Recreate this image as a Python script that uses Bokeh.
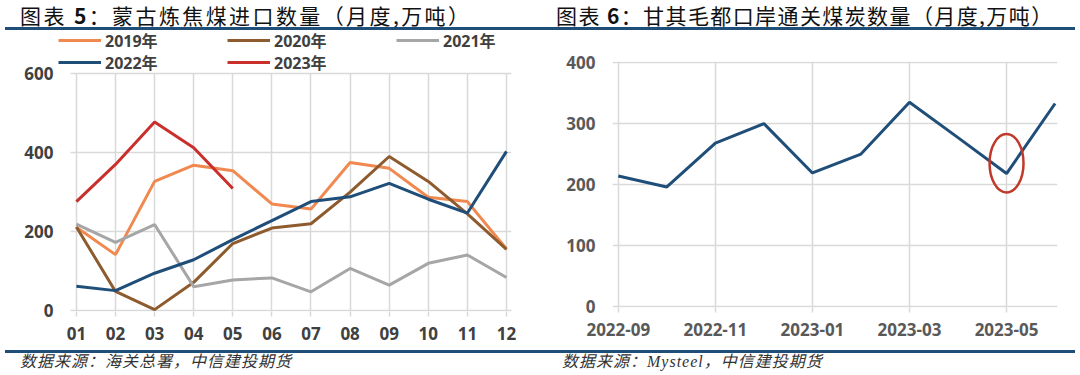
import re
from bokeh.plotting import figure
from bokeh.models import Range1d, FixedTicker, Legend, LegendItem, Div, Grid
from bokeh.layouts import row, column
from bokeh.embed import file_html
from bokeh.resources import INLINE

# ---------------- data ----------------
months = ["01", "02", "03", "04", "05", "06", "07", "08", "09", "10", "11", "12"]
imp_2019 = [211, 142, 327, 368, 354, 270, 257, 375, 360, 287, 276, 156]
imp_2020 = [212, 49, 3, 72, 170, 209, 220, 300, 390, 327, 245, 155]
imp_2021 = [219, 173, 218, 61, 78, 83, 48, 107, 65, 120, 141, 84]
imp_2022 = [62, 51, 95, 129, 180, 228, 276, 288, 322, 282, 247, 403]
imp_2023 = [276, 370, 477, 412, 309]
left_yticks = [0, 200, 400, 600]

port_months = ["2022-09", "2022-10", "2022-11", "2022-12", "2023-01",
               "2023-02", "2023-03", "2023-04", "2023-05", "2023-06"]
port_values = [214, 196, 268, 300, 219, 250, 335, 277, 218, 333]
port_tick_months = ["2022-09", "2022-11", "2023-01", "2023-03", "2023-05"]
right_yticks = [0, 100, 200, 300, 400]
highlight_month = "2023-05"

title_left = "图表 5：蒙古炼焦煤进口数量（月度,万吨）"
title_right = "图表 6：甘其毛都口岸通关煤炭数量（月度,万吨）"
source_left = "数据来源：海关总署，中信建投期货"
source_right = "数据来源：Mysteel，中信建投期货"

# ---------------- styles ----------------
COL_W = 540
TITLE_H = 30
FIG_H = 319
NUM_FONT = "'Open Sans', 'Noto Sans CJK SC'"
RULE = "#1F4E79"
GRID = "#D9D9D9"
C2019, C2020, C2021, C2022, C2023 = "#F0894F", "#8E5B2E", "#A6A6A6", "#1F4E79", "#C9302C"
HAS_CROSS = hasattr(Grid, "cross_bounds")


def title_div(text, left, ls, rule_left, rule_w):
    t = re.sub(r"(\d+)", r"<b style=\"font-family:'Liberation Serif';\">\1</b>", text)
    html = (f'<div style="position:relative;width:{COL_W}px;height:{TITLE_H}px;">'
            f'<div style="position:absolute;left:{left}px;top:3px;font-family:\'Noto Sans CJK SC\';'
            f'font-size:21px;line-height:24px;letter-spacing:{ls}px;color:#111111;white-space:nowrap;">{t}</div>'
            f'<div style="position:absolute;left:{rule_left}px;top:{TITLE_H - 3}px;width:{rule_w}px;height:3px;'
            f'background:{RULE};"></div></div>')
    return Div(text=html, width=COL_W, height=TITLE_H, margin=(0, 0, 0, 0))


def source_div(text, left, ls, rule_left, rule_w):
    html = (f'<div style="position:relative;width:{COL_W}px;height:26px;">'
            f'<div style="position:absolute;left:{rule_left}px;top:1px;width:{rule_w}px;height:3px;'
            f'background:{RULE};"></div>'
            f'<div style="position:absolute;left:{left}px;top:3px;font-family:\'Liberation Serif\',\'Noto Sans CJK SC\';'
            f'font-style:italic;font-size:16px;line-height:20px;letter-spacing:{ls}px;color:#333333;'
            f'white-space:nowrap;">{text}</div></div>')
    return Div(text=html, width=COL_W, height=26, margin=(0, 0, 0, 0))


def make_fig(ox, oy, fl, fr, ft, fb, xr, yr):
    p = figure(width=COL_W, height=FIG_H, x_range=xr, y_range=yr,
               output_backend="svg", toolbar_location=None,
               min_border_left=fl - ox, min_border_right=COL_W - (fr - ox),
               min_border_top=ft - oy, min_border_bottom=FIG_H - (fb - oy))
    try:
        p.frame_align = False
    except Exception:
        pass
    p.outline_line_color = None
    p.background_fill_color = "white"
    p.border_fill_color = "white"
    return p


def style_axes(p, color, xticks, yticks, fs, ystand):
    p.xaxis.ticker = FixedTicker(ticks=xticks)
    p.yaxis.ticker = FixedTicker(ticks=yticks)
    for ax in (p.xaxis, p.yaxis):
        ax.axis_line_color = None
        ax.minor_tick_line_color = None
        ax.major_label_text_font = NUM_FONT
        ax.major_label_text_font_style = "bold"
        ax.major_label_text_font_size = fs
        ax.major_label_text_color = color
    p.xaxis.major_tick_in = 0
    p.xaxis.major_tick_out = 5
    p.xaxis.major_tick_line_color = GRID
    p.xaxis.major_tick_line_width = 1.5
    p.xaxis.major_label_standoff = 10
    p.yaxis.major_tick_line_color = None
    p.yaxis.major_tick_in = 0
    p.yaxis.major_tick_out = 0
    p.yaxis.major_label_standoff = ystand
    p.xgrid.grid_line_color = GRID
    p.ygrid.grid_line_color = GRID
    p.xgrid.grid_line_width = 1.5
    p.ygrid.grid_line_width = 1.5


def legend_row(items, loc):
    return Legend(items=items, location=loc, orientation="horizontal",
                  glyph_width=43, glyph_height=20, label_height=20, label_width=122,
                  label_standoff=4, spacing=0, padding=0, margin=0,
                  border_line_color=None, background_fill_alpha=0,
                  label_text_font=NUM_FONT, label_text_font_style="bold",
                  label_text_font_size="16px", label_text_color="#404040")


# ---------------- left chart ----------------
xs = list(range(1, len(months) + 1))
p1 = make_fig(0, TITLE_H, 56, 511, TITLE_H, 311, Range1d(0.491, 12.128), Range1d(-1.77, 708.4))
style_axes(p1, "#404040", xs, left_yticks, "17px", 3)
p1.xaxis.major_label_overrides = {i: m for i, m in zip(xs, months)}
y_top = max(left_yticks)
if HAS_CROSS:
    p1.xgrid.cross_bounds = (0, y_top)
    p1.ygrid.cross_bounds = (0.85, 12.13)
else:
    p1.xgrid.grid_line_color = None
    p1.segment(x0=xs, y0=[0] * len(xs), x1=xs, y1=[y_top] * len(xs),
               line_color=GRID, line_width=1.5)

series = [("2019年", imp_2019, C2019), ("2020年", imp_2020, C2020), ("2021年", imp_2021, C2021),
          ("2022年", imp_2022, C2022), ("2023年", imp_2023, C2023)]
renderers = {}
for name, vals, col in series:
    renderers[name] = p1.line(xs[:len(vals)], vals, line_color=col, line_width=3)

items = [LegendItem(label=name, renderers=[renderers[name]]) for name, _, _ in series]
p1.add_layout(legend_row(items[:3], (2, 259)))
p1.add_layout(legend_row(items[3:], (2, 237)))

# ---------------- right chart ----------------
px = list(range(len(port_months)))
p2 = make_fig(540, TITLE_H, 612, 1057, 61, 307, Range1d(-0.12, 9.05), Range1d(-2, 402))
tick_idx = [port_months.index(m) for m in port_tick_months]
style_axes(p2, "#595959", tick_idx, right_yticks, "17px", 17)
p2.xaxis.major_label_overrides = {i: port_months[i] for i in tick_idx}
p2.line(px, port_values, line_color="#1F4E79", line_width=3)

hi = port_months.index(highlight_month)
p2.ellipse(x=[hi], y=[235], width=0.70, height=96, fill_color=None,
           line_color="#C0392B", line_width=2.5)

left_col = column(title_div(title_left, 20, 2.4, 5, 535), p1,
                  source_div(source_left, 20, 1.0, 5, 535))
right_col = column(title_div(title_right, 16, 1.4, 0, 535), p2,
                   source_div(source_right, 22, 1.0, 0, 535))
layout = row(left_col, right_col)
open("out.html", "w").write(file_html(layout, INLINE))
